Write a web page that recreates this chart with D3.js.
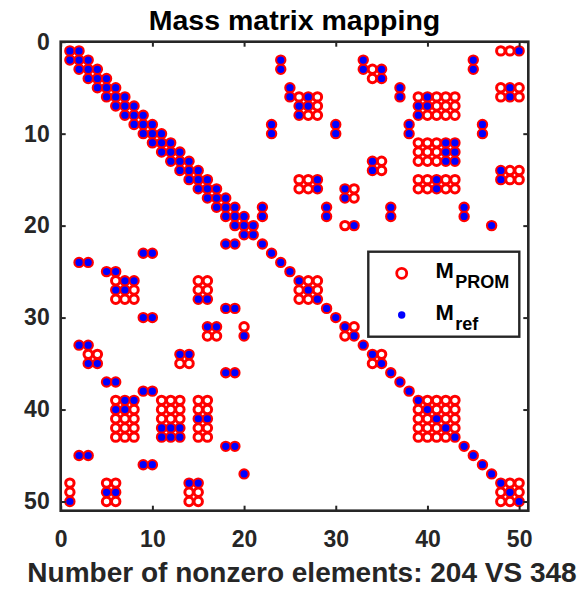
<!DOCTYPE html>
<html>
<head>
<meta charset="utf-8">
<script src="https://cdn.jsdelivr.net/npm/d3@7"></script>
<style>
  html, body { margin: 0; padding: 0; background: #fff; }
  svg { display: block; }
  text { font-family: "Liberation Sans", Arial, Helvetica, sans-serif; font-weight: bold; }
</style>
</head>
<body>
<svg id="chart" width="582" height="592"></svg>
<script>
// Matrix size
const matrixSize = 50;

// Tick values on both axes
const tickValues = [0, 10, 20, 30, 40, 50];

// Diagonal of the reference mass matrix (all present)
const refDiagonal = [1, 2, 3, 4, 5, 6, 7, 8, 9, 10, 11, 12, 13, 14, 15, 16, 17, 18, 19, 20,
  21, 22, 23, 24, 25, 26, 27, 28, 29, 30, 31, 32, 33, 34, 35, 36, 37, 38, 39, 40,
  41, 42, 43, 44, 45, 46, 47, 48, 49, 50];

// Upper-triangle off-diagonal nonzeros of the reference matrix [row, col]
const refBand = [[1, 2], [2, 3], [3, 4], [4, 5], [5, 6], [6, 7], [7, 8], [8, 9], [9, 10], [10, 11],
  [11, 12], [12, 13], [13, 14], [14, 15], [15, 16], [16, 17], [17, 18], [18, 19], [19, 20], [20, 21]];

const refCoupling = [
  [9, 23], [10, 23], [18, 22], [19, 22], [2, 24], [3, 24], [5, 25], [6, 25],
  [7, 26], [8, 26], [6, 27], [7, 27], [15, 28], [16, 28], [18, 29], [19, 29],
  [9, 30], [10, 30], [16, 31], [17, 31], [20, 32], [2, 33], [3, 33],
  [13, 34], [14, 34], [3, 35], [4, 35], [18, 36], [19, 36], [5, 37], [6, 37],
  [9, 38], [10, 38], [7, 39], [8, 39], [6, 40], [7, 40], [15, 41], [16, 41],
  [11, 42], [12, 42], [13, 42], [11, 43], [12, 43], [13, 43],
  [18, 44], [19, 44], [2, 45], [3, 45], [9, 46], [10, 46], [20, 47],
  [14, 48], [15, 48], [5, 49], [6, 49], [1, 50]
];

// Additional upper-triangle nonzeros that appear only in the PROM matrix [row, col]
const promExtra = [
  [1, 48], [1, 49],
  [3, 34], [4, 34],
  [6, 26], [6, 28], [7, 28], [8, 27], [8, 28],
  [6, 39], [6, 41], [6, 42], [6, 43], [7, 41], [7, 42], [7, 43], [8, 40], [8, 41], [8, 42], [8, 43],
  [5, 48], [6, 48], [5, 50], [6, 50],
  [11, 39], [11, 40], [11, 41], [12, 39], [12, 40], [12, 41], [13, 39], [13, 40], [13, 41],
  [13, 35], [14, 35],
  [14, 49], [15, 49], [14, 50], [15, 50],
  [15, 26], [15, 27], [16, 26], [16, 27],
  [16, 32], [17, 32],
  [15, 39], [15, 40], [15, 42], [15, 43], [16, 39], [16, 40], [16, 42], [16, 43],
  [20, 31],
  [26, 27], [26, 28], [27, 28], [31, 32], [34, 35],
  [39, 40], [39, 41], [39, 42], [39, 43], [40, 41], [40, 42], [40, 43], [41, 42], [41, 43], [42, 43],
  [48, 49], [48, 50], [49, 50]
];

const legendLabels = [
  { main: "M", sub: "PROM" },
  { main: "M", sub: "ref" }
];

// Symmetric matrices: mirror the upper triangle
function mirror(pairs) {
  const out = [];
  pairs.forEach(([r, c]) => { out.push([r, c]); out.push([c, r]); });
  return out;
}

const refEntries = refDiagonal.map(d => [d, d])
  .concat(mirror(refBand))
  .concat(mirror(refCoupling));
const promEntries = refEntries.concat(mirror(promExtra));

const svg = d3.select("#chart");
const axisColor = "#262626";

const plot = { left: 60.7, right: 528.3, top: 41.7, bottom: 510.7 };

const x = d3.scaleLinear().domain([0, matrixSize + 1]).range([plot.left, plot.right]);
const y = d3.scaleLinear().domain([0, matrixSize + 1]).range([plot.top, plot.bottom]);

// Title
svg.append("text")
  .attr("x", (plot.left + plot.right) / 2)
  .attr("y", 29.5)
  .attr("text-anchor", "middle")
  .attr("font-size", 28.5)
  .attr("fill", "#000")
  .text("Mass matrix mapping");

// PROM pattern (red open circles)
svg.append("g")
  .selectAll("circle")
  .data(promEntries)
  .join("circle")
  .attr("cx", d => x(d[1]))
  .attr("cy", d => y(d[0]))
  .attr("r", 4.2)
  .attr("fill", "none")
  .attr("stroke", "#ff0000")
  .attr("stroke-width", 3);

// Reference pattern (blue dots)
svg.append("g")
  .selectAll("circle")
  .data(refEntries)
  .join("circle")
  .attr("cx", d => x(d[1]))
  .attr("cy", d => y(d[0]))
  .attr("r", 3.6)
  .attr("fill", "#0000ff");

// Axes with inward ticks
const tickLen = 5;
function styleAxis(g) {
  g.select(".domain").remove();
  g.selectAll("line").attr("stroke", axisColor).attr("stroke-width", 2);
  g.selectAll("text").attr("fill", axisColor).attr("font-size", 23)
    .attr("font-family", "'Liberation Sans', Arial, sans-serif").attr("font-weight", "bold");
}

svg.append("g")
  .attr("transform", `translate(0,${plot.bottom})`)
  .call(d3.axisBottom(x).tickValues(tickValues).tickSize(-tickLen).tickPadding(20))
  .call(styleAxis);

svg.append("g")
  .attr("transform", `translate(0,${plot.top})`)
  .call(d3.axisTop(x).tickValues(tickValues).tickSize(-tickLen).tickFormat(""))
  .call(styleAxis);

svg.append("g")
  .attr("transform", `translate(${plot.left},0)`)
  .call(d3.axisLeft(y).tickValues(tickValues).tickSize(-tickLen).tickPadding(11))
  .call(styleAxis);

svg.append("g")
  .attr("transform", `translate(${plot.right},0)`)
  .call(d3.axisRight(y).tickValues(tickValues).tickSize(-tickLen).tickFormat(""))
  .call(styleAxis);

// Axes box
svg.append("rect")
  .attr("x", plot.left)
  .attr("y", plot.top)
  .attr("width", plot.right - plot.left)
  .attr("height", plot.bottom - plot.top)
  .attr("fill", "none")
  .attr("stroke", axisColor)
  .attr("stroke-width", 2.6);

// X-axis label
svg.append("text")
  .attr("x", 302)
  .attr("y", 581.5)
  .attr("text-anchor", "middle")
  .attr("font-size", 28)
  .attr("fill", axisColor)
  .text("Number of nonzero elements: 204 VS 348");

// Legend
const legend = svg.append("g");
legend.append("rect")
  .attr("x", 368.3).attr("y", 251.7)
  .attr("width", 151).attr("height", 85)
  .attr("fill", "#fff")
  .attr("stroke", axisColor)
  .attr("stroke-width", 2.4);

legend.append("circle")
  .attr("cx", 401.7).attr("cy", 273.3).attr("r", 5)
  .attr("fill", "none").attr("stroke", "#ff0000").attr("stroke-width", 2.8);
legend.append("circle")
  .attr("cx", 401.7).attr("cy", 315).attr("r", 3.7)
  .attr("fill", "#0000ff");

const legendRows = [278.3, 320];
legendLabels.forEach((lab, i) => {
  const t = legend.append("text")
    .attr("x", 435.5)
    .attr("y", legendRows[i])
    .attr("font-size", 22)
    .attr("fill", "#000");
  t.append("tspan").text(lab.main);
  t.append("tspan").attr("dx", 1.5).attr("dy", 10).attr("font-size", 18).text(lab.sub);
});
</script>
</body>
</html>
